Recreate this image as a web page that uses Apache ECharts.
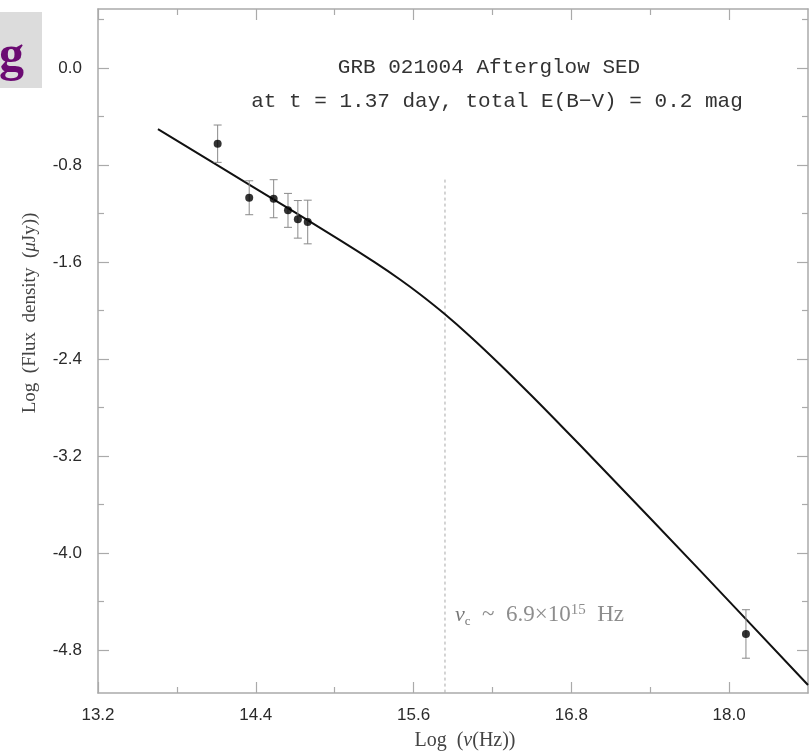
<!DOCTYPE html>
<html>
<head>
<meta charset="utf-8">
<script src="https://cdn.jsdelivr.net/npm/echarts@6/dist/echarts.min.js"></script>
<style>html,body{margin:0;padding:0;background:#fff;}#c{width:811px;height:752px;}</style>
</head>
<body>
<div id="c"></div>
<script>
// ---- axis ranges and ticks ----
const xRange = [13.2, 18.6];
const yRange = [-5.155, 0.487];
const xMajor = [13.2, 14.4, 15.6, 16.8, 18.0];
const xMinor = [13.8, 15.0, 16.2, 17.4];
const yMajor = [0.0, -0.8, -1.6, -2.4, -3.2, -4.0, -4.8];
const yMinor = [0.4, -0.4, -1.2, -2.0, -2.8, -3.6, -4.4];

// ---- observed photometry: log nu, log flux, error ----
const obsX   = [14.11, 14.35, 14.536, 14.645, 14.72, 14.795, 18.128];
const obsY   = [-0.624, -1.070, -1.078, -1.174, -1.248, -1.270, -4.668];
const obsErr = [0.154, 0.140, 0.157, 0.140, 0.155, 0.180, 0.200];

// ---- model SED curve ----
const modelX = [13.656, 14.356, 15.040, 15.306, 15.497, 15.649, 15.839, 16.029, 16.257, 16.485, 16.713, 17.017, 17.778, 18.600];
const modelY = [-0.503, -0.965, -1.419, -1.603, -1.744, -1.866, -2.031, -2.212, -2.445, -2.689, -2.940, -3.280, -4.144, -5.089];

// ---- cooling break ----
const nuC = 15.839;
const nuCLineTop = -0.92;
const annotPos = [15.915, -4.511];

const titleLines = ['GRB 021004 Afterglow SED', 'at t = 1.37 day, total E(B\u2212V) = 0.2 mag'];

const frameColor = '#aaaaaa';
const labelColor = '#2a2a2a';

function xAx(position, ticks, len, showLine, labels) {
  return {
    type: 'value', position: position, min: xRange[0], max: xRange[1],
    axisLine: { show: showLine, onZero: false, lineStyle: { color: frameColor, width: 1.5 } },
    axisTick: { show: true, inside: true, length: len, customValues: ticks, lineStyle: { color: frameColor, width: 1.2 } },
    axisLabel: labels ? { show: true, customValues: labels, formatter: v => v.toFixed(1), fontSize: 17, color: labelColor, margin: 14, fontFamily: 'Liberation Sans' } : { show: false },
    splitLine: { show: false }
  };
}
function yAx(position, ticks, len, showLine, labels) {
  return {
    type: 'value', position: position, min: yRange[0], max: yRange[1],
    axisLine: { show: showLine, onZero: false, lineStyle: { color: frameColor, width: 1.5 } },
    axisTick: { show: true, inside: true, length: len, customValues: ticks, lineStyle: { color: frameColor, width: 1.2 } },
    axisLabel: labels ? { show: true, customValues: labels, formatter: v => (Math.abs(v) < 1e-9 ? '0.0' : v.toFixed(1)), fontSize: 17, color: labelColor, margin: 16, padding: [10, 0, 0, 0], fontFamily: 'Liberation Sans' } : { show: false },
    splitLine: { show: false }
  };
}

const chart = echarts.init(document.getElementById('c'), null, { renderer: 'canvas' });

const option = {
  backgroundColor: '#ffffff',
  animation: false,
  grid: { left: 98, right: 3, top: 9, bottom: 59, containLabel: false },
  xAxis: [
    xAx('bottom', xMajor, 11, true, xMajor),
    xAx('bottom', xMinor, 6, false, null),
    xAx('top', xMajor, 11, true, null),
    xAx('top', xMinor, 6, false, null)
  ],
  yAxis: [
    yAx('left', yMajor, 11, true, yMajor),
    yAx('left', yMinor, 6, false, null),
    yAx('right', yMajor, 11, true, null),
    yAx('right', yMinor, 6, false, null)
  ],
  graphic: [
    { type: 'rect', left: 0, top: 12, shape: { width: 42, height: 76 }, style: { fill: '#dcdcdc' }, z: 10 },
    { type: 'text', x: 24, y: 57, style: { text: 'g', font: 'bold 50px "Liberation Serif"', fill: '#6b0a72', align: 'right', verticalAlign: 'middle' }, z: 11 },
    { type: 'text', x: 489, y: 67, style: { text: titleLines[0], font: '21px "Liberation Mono"', fill: '#333', align: 'center', verticalAlign: 'middle' } },
    { type: 'text', x: 497, y: 101, style: { text: titleLines[1], font: '21px "Liberation Mono"', fill: '#333', align: 'center', verticalAlign: 'middle' } },
    { type: 'text', x: 465, y: 741, style: {
        text: '{a|Log  (}{i|\u03bd}{a|(Hz))}', align: 'center', verticalAlign: 'middle',
        rich: { a: { font: '20px "Liberation Serif"', fill: '#444' }, i: { font: 'italic 20px "Liberation Serif"', fill: '#444' } } } },
    { type: 'text', x: 30, y: 313, rotation: Math.PI / 2, style: {
        text: '{a|Log  (Flux  density  (}{i|\u03bc}{a|Jy))}', align: 'center', verticalAlign: 'middle',
        rich: { a: { font: '19px "Liberation Serif"', fill: '#444' }, i: { font: 'italic 19px "Liberation Serif"', fill: '#444' } } } }
  ],
  series: [
    {
      type: 'line', name: 'model', xAxisIndex: 0, yAxisIndex: 0,
      data: modelX.map((x, i) => [x, modelY[i]]),
      showSymbol: false, smooth: 0.4,
      lineStyle: { color: '#111', width: 2 }, z: 3
    },
    {
      type: 'line', name: 'nuc', xAxisIndex: 0, yAxisIndex: 0,
      data: [[nuC, nuCLineTop], [nuC, yRange[0]]],
      showSymbol: false,
      lineStyle: { color: '#aaaaaa', width: 1, type: [3, 3] }, z: 2
    },
    {
      type: 'custom', name: 'err', xAxisIndex: 0, yAxisIndex: 0,
      data: obsX.map((x, i) => [x, obsY[i] - obsErr[i], obsY[i] + obsErr[i]]),
      renderItem: function (params, api) {
        const lo = api.coord([api.value(0), api.value(1)]);
        const hi = api.coord([api.value(0), api.value(2)]);
        const w = 4;
        const st = { stroke: '#8a8a8a', lineWidth: 1 };
        return { type: 'group', children: [
          { type: 'line', shape: { x1: lo[0], y1: lo[1], x2: hi[0], y2: hi[1] }, style: st },
          { type: 'line', shape: { x1: lo[0] - w, y1: lo[1], x2: lo[0] + w, y2: lo[1] }, style: st },
          { type: 'line', shape: { x1: hi[0] - w, y1: hi[1], x2: hi[0] + w, y2: hi[1] }, style: st }
        ] };
      }, z: 4
    },
    {
      type: 'scatter', name: 'obs', xAxisIndex: 0, yAxisIndex: 0,
      data: obsX.map((x, i) => [x, obsY[i]]),
      symbol: 'circle', symbolSize: 8, itemStyle: { color: '#000' }, z: 5
    },
    {
      type: 'scatter', name: 'annot', xAxisIndex: 0, yAxisIndex: 0,
      data: [annotPos], symbolSize: 0, silent: true,
      label: {
        show: true, position: 'right', distance: 0,
        formatter: '{n|\u03bd}{s|c}{t|  ~  6.9\u00d710}{p|15}{t|  Hz}',
        rich: {
          n: { fontFamily: 'Liberation Serif', fontStyle: 'italic', fontSize: 22, color: '#555', lineHeight: 30, verticalAlign: 'middle' },
          s: { fontFamily: 'Liberation Serif', fontSize: 13, color: '#555', lineHeight: 30, verticalAlign: 'bottom', padding: [0, 0, 2, 0] },
          t: { fontFamily: 'Liberation Serif', fontSize: 23, color: '#707070', lineHeight: 30, verticalAlign: 'middle' },
          p: { fontFamily: 'Liberation Serif', fontSize: 15, color: '#707070', lineHeight: 30, verticalAlign: 'top', padding: [3, 0, 0, 0] }
        }
      }
    }
  ]
};
chart.setOption(option);
</script>
</body>
</html>
